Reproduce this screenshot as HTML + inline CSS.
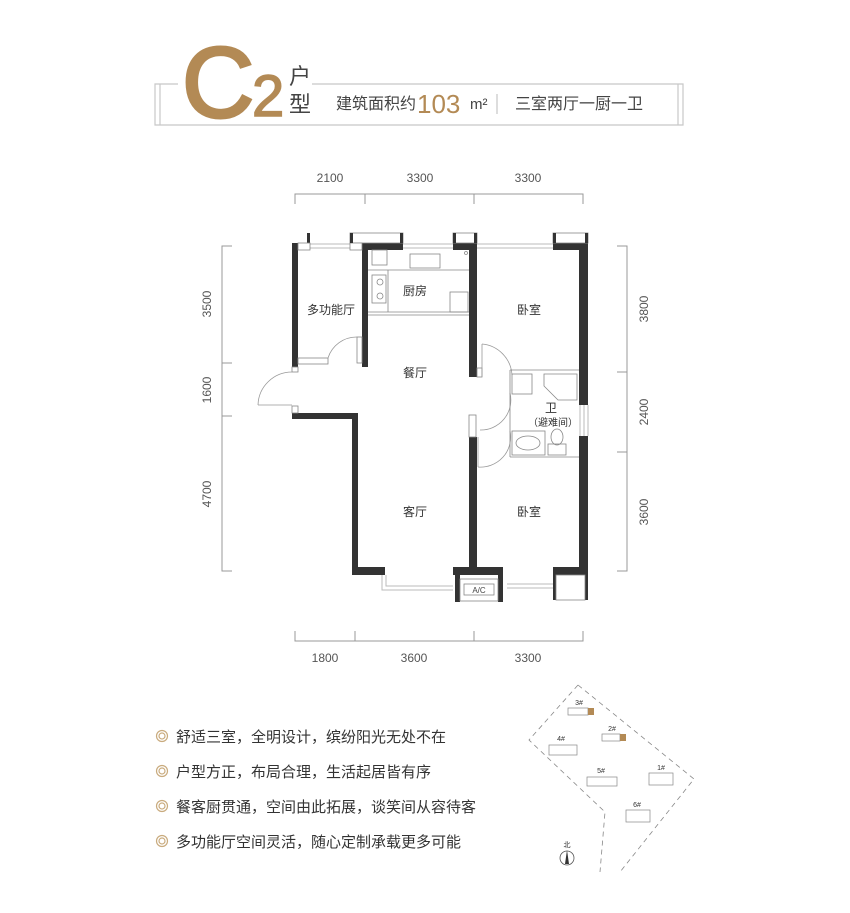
<!DOCTYPE html>
<html><head><meta charset="utf-8"><style>
body{margin:0;background:#fff;width:850px;height:913px;overflow:hidden;font-family:"Liberation Sans","Noto Sans CJK SC",sans-serif}
svg{display:block}
</style></head><body>
<svg width="850" height="913" viewBox="0 0 850 913" xmlns="http://www.w3.org/2000/svg" font-family="Liberation Sans, Noto Sans CJK SC, sans-serif">
<!-- header frame -->
<g fill="none" stroke="#c8c8c8" stroke-width="1.2">
<path d="M178 84 H155 V125 H683 V84 H312"/>
<path d="M160 84 V125 M678 84 V125"/>
</g>
<text x="182" y="117" font-size="100" fill="#b38a55" stroke="#b38a55" stroke-width="3" font-family="Liberation Sans, sans-serif">C</text>
<text x="252" y="116" font-size="58" fill="#b38a55" stroke="#b38a55" stroke-width="1.5" font-family="Liberation Sans, sans-serif">2</text>
<text x="289" y="84" font-size="22" fill="#444">户</text>
<text x="289" y="112" font-size="22" fill="#444">型</text>
<text x="336" y="109" font-size="16" fill="#444">建筑面积约</text>
<text x="417" y="113" font-size="26" fill="#b38a55">103</text>
<text x="470" y="109" font-size="15" fill="#444">m²</text>
<line x1="497" y1="94" x2="497" y2="114" stroke="#bbb"/>
<text x="515" y="109" font-size="16" fill="#444">三室两厅一厨一卫</text>

<!-- dimension lines -->
<g stroke="#999" stroke-width="1" fill="none">
<path d="M295 204 V194 H583 V204 M365 194 V204 M474 194 V204"/>
<path d="M295 631 V641 H583 V631 M355 631 V641 M474 631 V641"/>
<path d="M232 246 H222 V571 H232 M222 363 H232 M222 416 H232"/>
<path d="M617 246 H627 V571 H617 M617 372 H627 M617 452 H627"/>
</g>
<g font-size="12" fill="#555" text-anchor="middle">
<text x="330" y="182">2100</text><text x="420" y="182">3300</text><text x="528" y="182">3300</text>
<text x="325" y="662">1800</text><text x="414" y="662">3600</text><text x="528" y="662">3300</text>
<text transform="translate(211,304) rotate(-90)">3500</text>
<text transform="translate(211,390) rotate(-90)">1600</text>
<text transform="translate(211,494) rotate(-90)">4700</text>
<text transform="translate(648,309) rotate(-90)">3800</text>
<text transform="translate(648,412) rotate(-90)">2400</text>
<text transform="translate(648,512) rotate(-90)">3600</text>
</g>

<!-- windows (thin double lines) -->
<g stroke="#bbb" stroke-width="1" fill="none">
<path d="M298 244 H362 M298 248 H362"/>
<path d="M403 244 H453 M403 248 H453"/>
<path d="M477 244 H553 M477 248 H553"/>
<path d="M580 405 V436 M584 405 V436 M588 405 V436"/>
<path d="M382 575 V590 H453 M386 575 V586 H453"/>
<path d="M507 588 H553 M507 584 H553"/>
</g>
<!-- walls -->
<g fill="#333">
<rect x="292" y="243" width="6" height="124"/>
<rect x="307" y="233" width="3" height="10"/>
<rect x="362" y="243" width="6" height="124"/>
<rect x="362" y="243" width="41" height="7"/>
<rect x="453" y="243" width="24" height="7"/>
<rect x="469" y="250" width="8" height="127"/>
<rect x="553" y="243" width="35" height="7"/>
<rect x="579" y="243" width="9" height="162"/>
<rect x="579" y="436" width="9" height="139"/>
<rect x="292" y="413" width="66" height="6"/>
<rect x="352" y="413" width="6" height="162"/>
<rect x="352" y="567" width="33" height="8"/>
<rect x="469" y="437" width="8" height="138"/>
<rect x="453" y="567" width="50" height="8"/>
<rect x="455" y="575" width="5" height="27"/><rect x="498" y="575" width="5" height="27"/>
<rect x="553" y="567" width="35" height="8"/>
<rect x="553" y="575" width="3" height="25"/><rect x="585" y="575" width="3" height="25"/>
</g>
<g fill="#fff" stroke="#888" stroke-width="0.8">
<rect x="453" y="233" width="24" height="10"/>
<rect x="553" y="233" width="35" height="10"/>
<rect x="350" y="233" width="53" height="10"/>
<rect x="298" y="243" width="12" height="7"/>
<rect x="350" y="243" width="12" height="7"/>
<rect x="556" y="575" width="29" height="25"/>
<rect x="460" y="579" width="38" height="22"/>
<rect x="464" y="584" width="30" height="11"/>
<rect x="298" y="358" width="30" height="6"/>
<rect x="292" y="367" width="6" height="5"/>
<rect x="292" y="406" width="6" height="7"/>
<rect x="357" y="337" width="5" height="26"/>
<rect x="469" y="415" width="7" height="22"/>
<rect x="477" y="368" width="5" height="9"/>
</g>
<g fill="#333">
<rect x="350" y="233" width="3" height="10"/><rect x="400" y="233" width="3" height="10"/>
<rect x="453" y="233" width="3" height="10"/><rect x="474" y="233" width="3" height="10"/>
<rect x="553" y="233" width="3" height="10"/><rect x="585" y="233" width="3" height="10"/>
</g>
<text x="479" y="593" font-size="8" fill="#444" text-anchor="middle">A/C</text>
<!-- doors -->
<g fill="none" stroke="#999" stroke-width="0.8">
<path d="M258 405 A34 34 0 0 1 292 372"/><path d="M258 405 H292"/>
<path d="M328 358 A30 30 0 0 1 357 337"/>
<path d="M482 344 A33 33 0 0 1 512 375"/><path d="M482 344 V377"/>
<path d="M478 467 A30 30 0 0 0 510 431"/><path d="M478 437 V467"/>
<path d="M510 393 A30 30 0 0 1 480 430"/>
</g>
<!-- kitchen fixtures -->
<g fill="none" stroke="#888" stroke-width="0.8">
<path d="M368 270 H469 M388 270 V312 M368 312 H469 M368 315 H469"/>
<rect x="410" y="254" width="30" height="14"/>
<rect x="372" y="250" width="15" height="15"/>
<rect x="372" y="275" width="14" height="28"/>
<circle cx="380" cy="282" r="3"/><circle cx="380" cy="296" r="3"/>
<rect x="450" y="292" width="18" height="20"/>
<circle cx="466" cy="253" r="1.5"/>
<!-- bath -->
<path d="M510 370 H579 M510 457 H579 M510 370 V457"/>
<rect x="512" y="374" width="20" height="20"/>
<path d="M544 374 H577 V400 H558 L544 386 Z"/>
<rect x="512" y="431" width="33" height="24"/>
<ellipse cx="528" cy="443" rx="12" ry="7"/>
<rect x="548" y="444" width="18" height="11"/>
<ellipse cx="557" cy="437" rx="6" ry="8"/>
</g>
<!-- room labels -->
<g font-size="12" fill="#333" text-anchor="middle">
<text x="331" y="314">多功能厅</text>
<text x="415" y="295">厨房</text>
<text x="529" y="314">卧室</text>
<text x="415" y="377">餐厅</text>
<text x="551" y="412">卫</text>
<text x="553" y="426" font-size="10">（避难间）</text>
<text x="415" y="516">客厅</text>
<text x="529" y="516">卧室</text>
</g>

<!-- bullets -->
<g font-size="15" fill="#333">
<g fill="none" stroke="#c9ab7e" stroke-width="1.2"><circle cx="162" cy="736" r="5.5"/><circle cx="162" cy="736" r="3"/>
<circle cx="162" cy="771" r="5.5"/><circle cx="162" cy="771" r="3"/>
<circle cx="162" cy="806" r="5.5"/><circle cx="162" cy="806" r="3"/>
<circle cx="162" cy="841" r="5.5"/><circle cx="162" cy="841" r="3"/></g>
<text x="176" y="742">舒适三室，全明设计，缤纷阳光无处不在</text>
<text x="176" y="777">户型方正，布局合理，生活起居皆有序</text>
<text x="176" y="812">餐客厨贯通，空间由此拓展，谈笑间从容待客</text>
<text x="176" y="847">多功能厅空间灵活，随心定制承载更多可能</text>
</g>

<!-- site map -->
<g fill="none" stroke="#888" stroke-width="0.8" stroke-dasharray="5,4">
<path d="M578 685 L694 779 L620 872"/>
<path d="M578 685 L529 740 L605 812 L600 872"/>
</g>
<g fill="#fff" stroke="#888" stroke-width="0.7">
<rect x="568" y="708" width="20" height="7"/><rect x="602" y="734" width="18" height="7"/>
<rect x="549" y="745" width="28" height="10"/><rect x="587" y="777" width="30" height="9"/>
<rect x="649" y="773" width="24" height="12"/><rect x="626" y="810" width="24" height="12"/>
</g>
<rect x="588" y="708" width="6" height="7" fill="#b38a55"/>
<rect x="620" y="734" width="6" height="7" fill="#b38a55"/>
<g font-size="7" fill="#333" text-anchor="middle">
<text x="579" y="705">3#</text><text x="612" y="731">2#</text><text x="561" y="741">4#</text>
<text x="601" y="773">5#</text><text x="661" y="770">1#</text><text x="637" y="807">6#</text>
<text x="567" y="847">北</text>
</g>
<circle cx="567" cy="858" r="7" fill="none" stroke="#555" stroke-width="0.8"/>
<path d="M567 850 L569 864 H565 Z" fill="#333"/>
</svg>
</body></html>
